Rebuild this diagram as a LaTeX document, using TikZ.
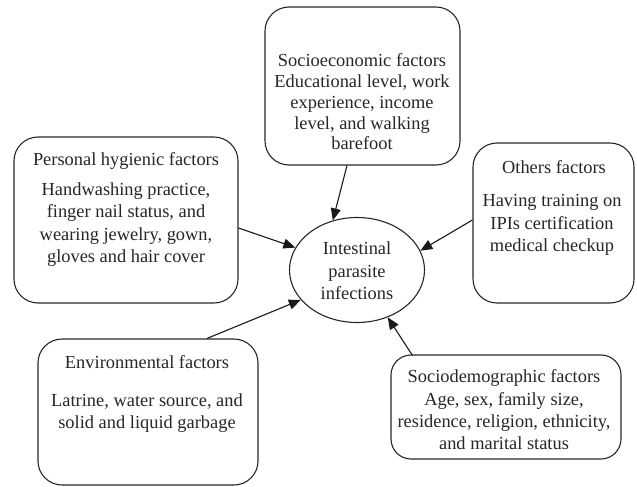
\documentclass[tikz,border=0pt]{standalone}
\usepackage{fontspec}
\setmainfont{Liberation Serif}
\usetikzlibrary{arrows.meta,calc,shapes.geometric}
\begin{document}
\begin{tikzpicture}[x=1pt,y=-1pt,
  box/.style={draw=black!85,line width=1.1pt,rounded corners=24pt,inner sep=0pt},
  txt/.style={align=center,inner sep=0pt,text=black!85,font=\fontsize{18.4}{22.4}\selectfont},
  conn/.style={draw=black!90,line width=1.1pt,-{Triangle[length=12pt,width=10pt]}}]
\useasboundingbox (0,0) rectangle (637,487);
% boxes
\node[box,minimum width=195pt,minimum height=158pt] (soc) at (362.5,86) {};
\node[box,minimum width=224pt,minimum height=166pt] (per) at (126,220) {};
\node[box,minimum width=161pt,minimum height=160pt] (oth) at (553.5,223) {};
\node[box,rounded corners=20pt,minimum width=230pt,minimum height=104pt] (dem) at (506,407) {};
\node[box,minimum width=220pt,minimum height=146pt] (env) at (148,412) {};
\node[ellipse,draw=black!85,line width=1.1pt,minimum width=135pt,minimum height=105pt,inner sep=0pt] (ipi) at (357,270) {};
% texts
\node[txt,font=\fontsize{18.4}{20.8}\selectfont] (soct) at (362,102) {Socioeconomic factors\\Educational level, work\\experience, income\\level, and walking\\barefoot};
\node[txt] (pert1) at (126,161) {Personal hygienic factors};
\node[txt] (pert2) at (126,224.5) {Handwashing practice,\\finger nail status, and\\wearing jewelry, gown,\\gloves and hair cover};
\node[txt] (otht1) at (554,167) {Others factors};
\node[txt] (otht2) at (552,225) {Having training on\\IPIs certification\\medical checkup};
\node[txt] (ipit) at (357,271) {Intestinal\\parasite\\infections};
\node[txt] (demt) at (504,410) {Sociodemographic factors\\Age, sex, family size,\\residence, religion, ethnicity,\\and marital status};
\node[txt] (envt1) at (147,362) {Environmental factors};
\node[txt] (envt2) at (147,413) {Latrine, water source, and\\solid and liquid garbage};
% connectors
\draw[conn] ($(soc.south)+(-15.5,0)$) -- (ipi.116.6);
\draw[conn] ($(per.east)+(0,8)$) -- (ipi.160.5);
\draw[conn] ($(env.north)+(59,0)$) -- (ipi.208.6);
\draw[conn] ($(oth.west)+(0,-3)$) -- (ipi.17);
\draw[conn] ($(dem.north west)+(22,1)$) -- (ipi.-57.4);
\end{tikzpicture}
\end{document}
